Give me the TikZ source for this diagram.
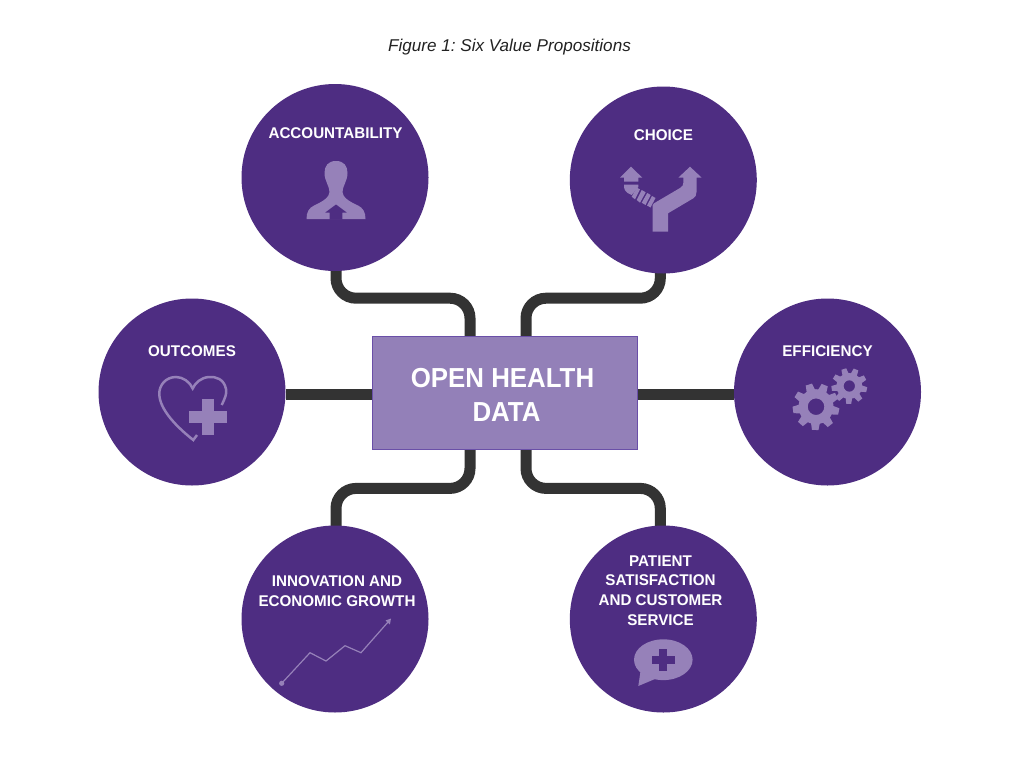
\documentclass[tikz,border=0pt]{standalone}
\usepackage{fontspec}
\setmainfont{Liberation Sans}
\newfontfamily\hubfont[FakeStretch=0.94]{Liberation Sans}
\newfontfamily\labfont[FakeStretch=0.98]{Liberation Sans}
\usetikzlibrary{backgrounds,calc}
\definecolor{circ}{HTML}{4E2D82}
\definecolor{ico}{HTML}{9681B9}
\definecolor{hubf}{HTML}{9380B8}
\definecolor{hubb}{HTML}{6A4FA8}
\definecolor{conn}{HTML}{333333}
\definecolor{ttl}{HTML}{222222}
\tikzset{
  disc/.style={circle,minimum size=187pt,inner sep=0pt,fill=circ},
  lab/.style={text=white,font=\labfont\fontsize{15.5}{19}\selectfont\bfseries,inner sep=0pt,align=center},
  wire/.style={draw=conn,line width=11pt,rounded corners=20pt},
}
\newcommand{\gearshape}[6]{% cx cy rootr outerr hole teeth
  \fill[ico,even odd rule] (#1,#2) circle[radius=#3] (#1,#2) circle[radius=#5];
  \pgfmathsetmacro{\stepang}{360/#6}
  \foreach \k in {1,...,#6}{
    \pgfmathsetmacro{\a}{\k*\stepang+12}
    \fill[ico] ($(#1,#2)+({\a-15}:#3-0.5)$) -- ($(#1,#2)+({\a-8}:#4)$) -- ($(#1,#2)+({\a+8}:#4)$) -- ($(#1,#2)+({\a+15}:#3-0.5)$) -- cycle;
  }
}
\begin{document}
\frenchspacing
\begin{tikzpicture}[x=1pt,y=-1pt]
\useasboundingbox (0,0) rectangle (1024,768);

\node[text=ttl,inner sep=0pt,font=\fontsize{17.1}{20}\selectfont\itshape] (title) at (509.5,47.5) {Figure 1: Six Value Propositions};

\node[disc] (acc) at (335,177.5) {};
\node[disc] (cho) at (663.3,180) {};
\node[disc] (out) at (192,392) {};
\node[disc] (eff) at (827.5,392) {};
\node[disc] (inn) at (335,619) {};
\node[disc] (pat) at (663.3,619) {};

\node[rectangle,fill=hubf,draw=hubb,line width=0.8pt,minimum width=265pt,minimum height=113pt,inner sep=0pt] (hub) at (504.5,392.5) {};
\node[text=white,inner sep=0pt,align=center,font=\hubfont\fontsize{27.5}{34}\selectfont\bfseries] (hubtext) at (504.5,394.5) {OPEN HEALTH\hspace*{4pt}\\\hspace*{4pt}DATA};

\begin{scope}[on background layer]
\fill[white] (0,0) rectangle (1024,768);
\draw[wire] ([xshift=1pt,yshift=5pt]acc.south) -- ++(0,32) -| ([xshift=-34.5pt,yshift=-5pt]hub.north);
\draw[wire] ([xshift=-3pt,yshift=5pt]cho.south) -- ++(0,29.5) -| ([xshift=21.5pt,yshift=-5pt]hub.north);
\draw[wire] ([xshift=-34.5pt,yshift=5pt]hub.south) -- ++(0,44) -| ([xshift=1pt,yshift=-5pt]inn.north);
\draw[wire] ([xshift=21.5pt,yshift=5pt]hub.south) -- ++(0,44) -| ([xshift=-3pt,yshift=-5pt]pat.north);
\draw[wire] ([yshift=-2.5pt]out.east) -- ([yshift=-2pt]hub.west);
\draw[wire] ([yshift=-2pt]hub.east) -- ([yshift=-2.5pt]eff.west);
\end{scope}

\node[lab] (accl) at (335.5,133) {ACCOUNTABILITY};
\node[lab] (chol) at (663.5,135) {CHOICE};
\node[lab] (outl) at (192,351) {OUTCOMES};
\node[lab] (effl) at (827.5,351) {EFFICIENCY};
\node[lab,font=\labfont\fontsize{15.5}{20}\selectfont\bfseries] (innl) at (337,591) {INNOVATION AND\\ECONOMIC GROWTH};
\node[lab,font=\labfont\fontsize{15.5}{19.8}\selectfont\bfseries] (patl) at (660.5,590.5) {PATIENT\\SATISFACTION\\AND CUSTOMER\\SERVICE};

% person icon
\fill[ico] (336,161) .. controls (344,161) and (347.5,166) .. (347.5,173)
  .. controls (347.5,181) and (342.5,186) .. (342.5,192)
  .. controls (342.5,197) and (349,201.5) .. (358,205.5)
  .. controls (363,208) and (365.5,212) .. (365.5,219)
  -- (306.5,219)
  .. controls (306.5,212) and (309,208) .. (314,205.5)
  .. controls (323,201.5) and (329.5,197) .. (329.5,192)
  .. controls (329.5,186) and (324.5,181) .. (324.5,173)
  .. controls (324.5,166) and (328,161) .. (336,161) -- cycle;
\fill[circ] (336,204.5) -- (346.7,212.5) -- (342.3,212.5) -- (342.3,219.5) -- (329.5,219.5) -- (329.5,212.5) -- (325.3,212.5) -- cycle;

% choice icon
\fill[ico] (652.7,231.7) -- (668,231.7) -- (668,213.3) -- (693,198.5)
  .. controls (695.5,197) and (696.5,195) .. (696.5,192)
  -- (696.5,177.7) -- (701.7,177.7) -- (690,166.7) -- (678.3,177.7) -- (683.3,177.7)
  -- (683.3,183) .. controls (683.3,185) and (682.5,186.5) .. (680,188) -- (654,203.3) -- (652.7,205) -- cycle;
\fill[ico] (631,166.7) -- (642.3,177.7) -- (638.3,177.7) -- (638.3,181.5) -- (624,181.5) -- (624,177.7) -- (620,177.7) -- cycle;
\fill[ico] (624,184.7) -- (638.3,184.7) -- (638.3,187) -- (631.7,195) -- (627.5,193) .. controls (625,191) and (624,189) .. (624,187) -- cycle;
\fill[ico] (636.7,187.7) -- (640,189.3) -- (635,199.3) -- (631.7,196.7) -- cycle;
\fill[ico] (641.7,190) -- (645.7,192.3) -- (640,202.7) -- (636.7,200) -- cycle;
\fill[ico] (647.2,193) -- (650.7,195) -- (645.5,205) -- (641.7,202.7) -- cycle;
\fill[ico] (652,196) -- (655.5,198) -- (650.5,207.5) -- (647,205.5) -- cycle;

% heart icon
\draw[ico,line width=2.5pt] (221.7,405) .. controls (225,398) and (227,394) .. (226,389)
  .. controls (224,379) and (216,376.5) .. (209,377)
  .. controls (201,377.5) and (195,383) .. (192.7,388.5)
  .. controls (190,382) and (183,377) .. (176,377)
  .. controls (166,377) and (159,385) .. (159.3,394)
  .. controls (159.5,410) and (178,428) .. (193.3,440)
  -- (197,435);
\fill[ico] (201.7,399) rectangle (214.3,435);
\fill[ico] (189.3,411) rectangle (226.7,423.3);

% gears
\gearshape{816}{406.7}{17.5}{23.5}{8.3}{9}
\gearshape{849.3}{386}{13}{18}{5.7}{9}

% chart icon
\draw[ico,line width=1.2pt] (281.7,683.3) -- (310,652.7) -- (326,661) -- (345,645.7) -- (361,652.7) -- (388.5,621.5);
\fill[ico] (281.7,683.3) circle[radius=2.6];
\fill[ico] (391,618.5) -- (389.9,624.5) -- (385.5,620.5) -- cycle;

% speech bubble icon
\fill[ico] (663.3,659.7) ellipse[x radius=29.3,y radius=20.4];
\fill[ico] (640.7,670) -- (638.3,686) -- (655,679) -- cycle;
\fill[circ] (659.2,649) rectangle (667.4,671.3);
\fill[circ] (652.3,656) rectangle (675,664.2);
\end{tikzpicture}
\end{document}
